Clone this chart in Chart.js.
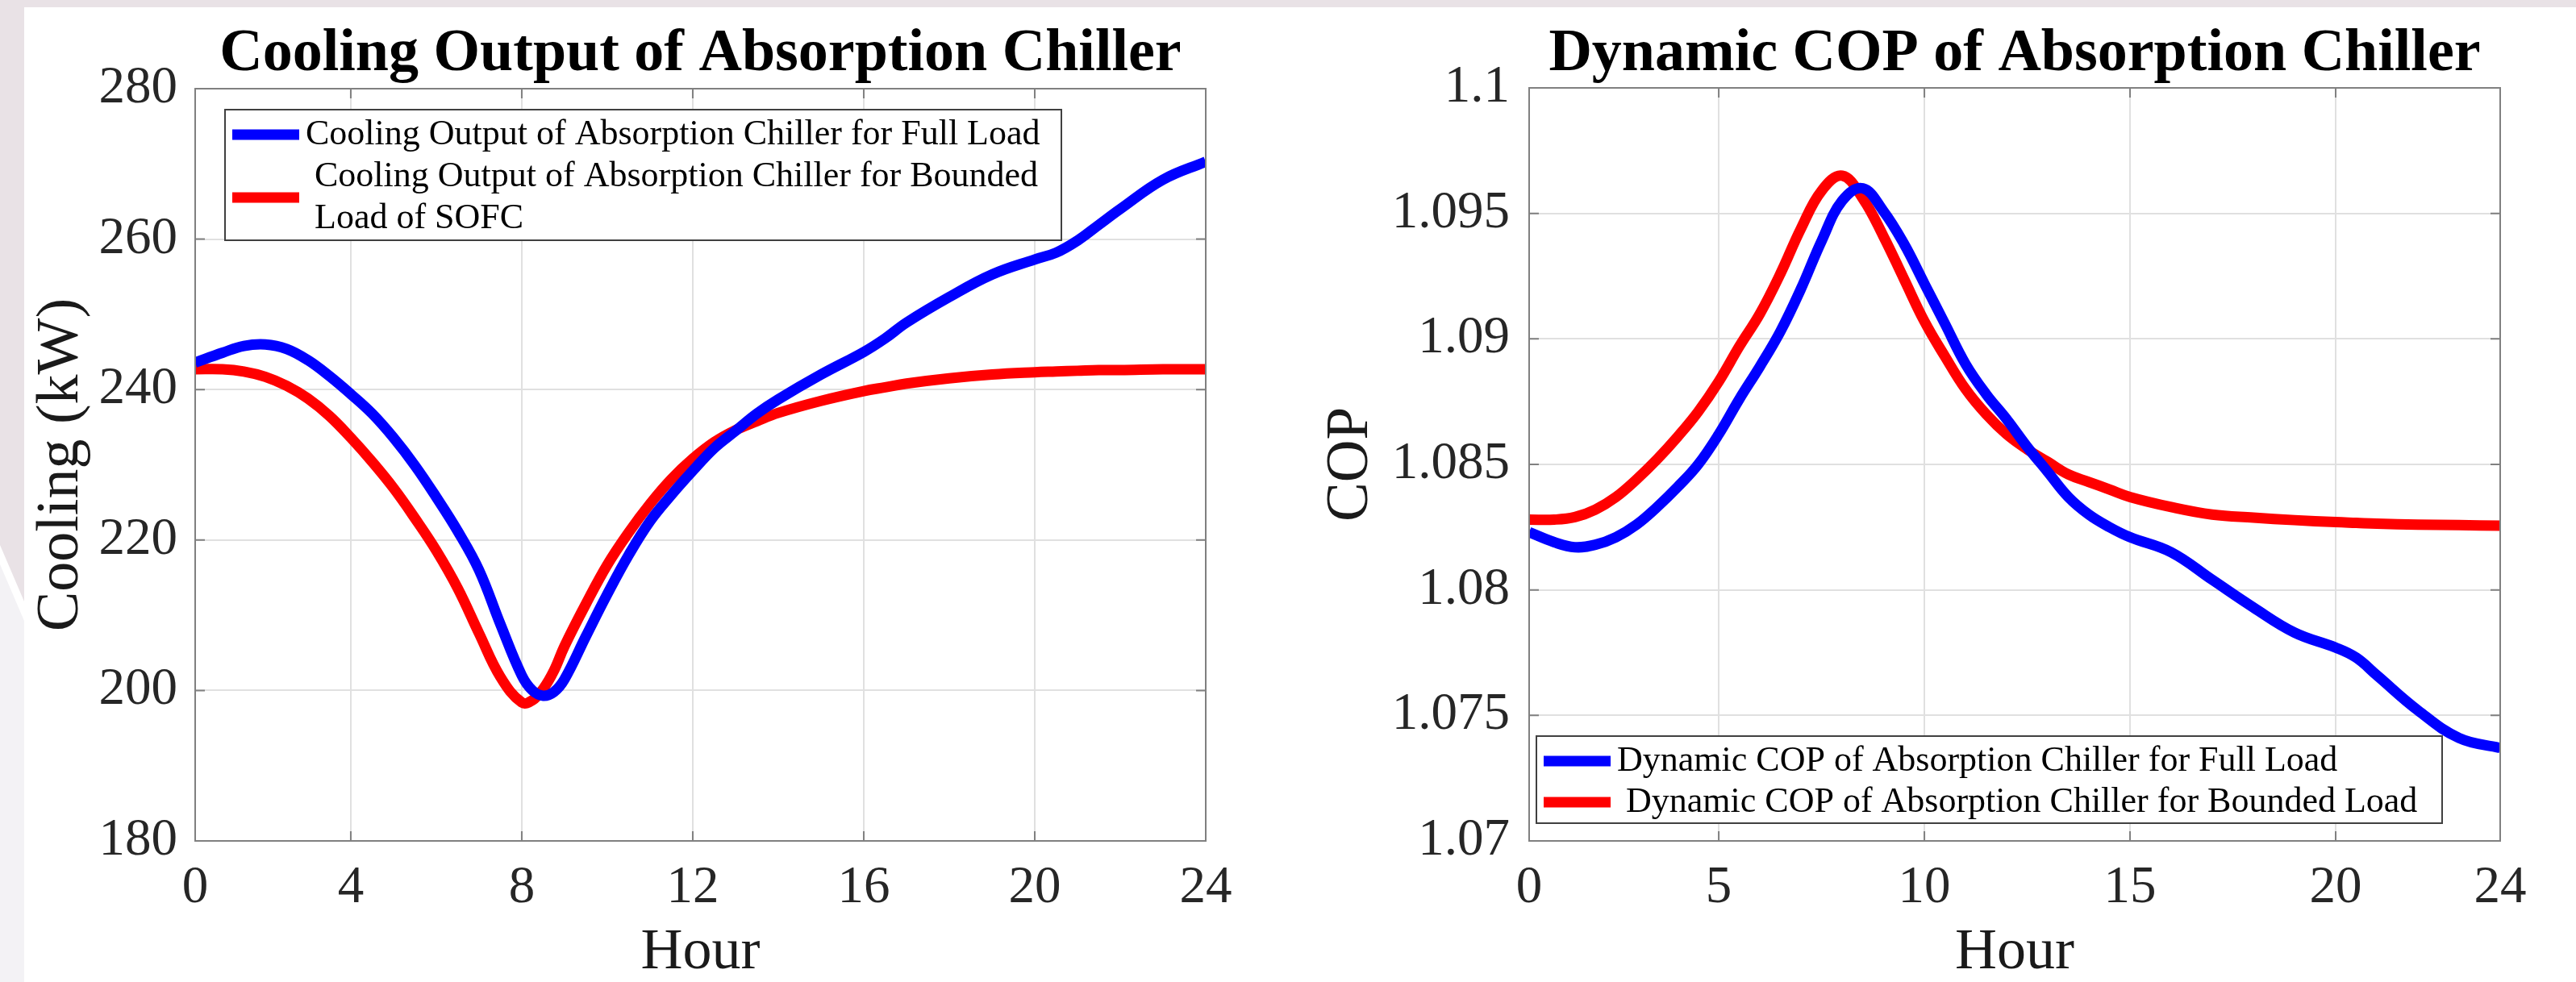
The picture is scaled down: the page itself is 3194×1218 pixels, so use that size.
<!DOCTYPE html>
<html>
<head>
<meta charset="utf-8">
<title>Absorption Chiller</title>
<script src="https://cdn.jsdelivr.net/npm/chart.js"></script>
<style>
  body { margin: 0; background: #fff; width: 3194px; height: 1218px; overflow: hidden; position: relative; }
  .strip-top { position: absolute; left: 0; top: 0; width: 3194px; height: 9px; background: #e9e2e6; }
  .strip-left { position: absolute; left: 0; top: 0; width: 30px; height: 746px; background: #e9e2e6;
    clip-path: polygon(0 0, 100% 0, 100% 100%, 0 676px); }
  .strip-left2 { position: absolute; left: 0; top: 700px; width: 30px; height: 518px; background: #f3f2f5;
    clip-path: polygon(0 0, 100% 70px, 100% 100%, 0 100%); }
  canvas { position: absolute; top: 0; }
  #coolingChart { left: 0; }
  #copChart { left: 1597px; }
</style>
</head>
<body>
<div class="strip-top"></div>
<div class="strip-left"></div>
<div class="strip-left2"></div>
<canvas id="coolingChart" width="1597" height="1218"></canvas>
<canvas id="copChart" width="1597" height="1218"></canvas>

<script>
// ---- cooling output (left) ----
var hoursCooling = [0.36, 1, 1.5, 2, 2.5, 3, 3.5, 4, 4.5, 5, 5.5, 6, 6.5, 7, 7.5, 8, 8.25, 8.5, 8.75, 9,
  9.5, 10, 10.5, 11, 11.5, 12, 12.5, 13, 13.5, 14, 15, 16, 16.5, 17, 18, 19, 20, 20.5, 21, 21.5, 22, 23, 24]
var coolingFull = [243.6, 244.9, 245.8, 246.0, 245.4, 243.9, 241.8, 239.4, 236.8, 233.6, 229.9, 225.7, 221.2,
  216.0, 208.8, 202.0, 200.0, 199.3, 199.8, 201.5, 207.2, 212.8, 218.0, 222.5, 226.0, 229.2, 232.2, 234.5,
  236.8, 238.7, 242.0, 245.0, 246.8, 248.9, 252.3, 255.3, 257.3, 258.2, 259.8, 261.9, 264.0, 267.9, 270.3]
var coolingBounded = [242.7, 242.7, 242.4, 241.7, 240.5, 238.8, 236.5, 233.6, 230.4, 226.9, 222.9, 218.6,
  213.6, 207.6, 201.8, 198.4, 198.7, 200.2, 202.6, 205.9, 211.5, 216.7, 221.0, 224.8, 228.1, 230.8, 233.0,
  234.6, 235.8, 236.9, 238.5, 239.8, 240.3, 240.8, 241.5, 242.0, 242.3, 242.4, 242.5, 242.6, 242.6, 242.7, 242.7]
var coolingXTicks = [0.36, 4, 8, 12, 16, 20, 24]
var coolingXLabels = ['0', '4', '8', '12', '16', '20', '24']
var coolingYTicks = [180, 200, 220, 240, 260, 280]

// ---- dynamic COP (right) ----
var hoursCop = [0.39, 1, 1.5, 2, 2.5, 3, 3.5, 4, 4.5, 5, 5.5, 6, 6.5, 7, 7.5, 8, 8.5, 9, 9.5, 10,
  10.5, 11, 11.5, 12, 12.5, 13, 13.5, 14, 14.5, 15, 16, 17, 18, 19, 20, 20.5, 21, 22, 23, 24]
var copFull = [1.0823, 1.0819, 1.0817, 1.0818, 1.0821, 1.0826, 1.0833, 1.0841, 1.0850, 1.0862,
  1.0876, 1.0889, 1.0903, 1.0920, 1.0939, 1.0955, 1.0960, 1.0951, 1.0938, 1.0922,
  1.0906, 1.0890, 1.0878, 1.0868, 1.0857, 1.0847, 1.0837, 1.0830, 1.0825, 1.0821,
  1.0815, 1.0804, 1.0793, 1.0783, 1.0777, 1.0773, 1.0766, 1.0752, 1.0741, 1.0737]
var copBounded = [1.0828, 1.0828, 1.0829, 1.0832, 1.0837, 1.0844, 1.0852, 1.0861, 1.0871, 1.0883,
  1.0897, 1.0910, 1.0926, 1.0944, 1.0959, 1.0965, 1.0956, 1.0941, 1.0924, 1.0907,
  1.0893, 1.0880, 1.0870, 1.0862, 1.0856, 1.0851, 1.0846, 1.0843, 1.0840, 1.0837,
  1.0833, 1.0830, 1.08288, 1.08278, 1.08270, 1.08267, 1.08264, 1.08260, 1.08258, 1.08256]
var copXTicks = [0.39, 5, 10, 15, 20, 24]
var copXLabels = ['0', '5', '10', '15', '20', '24']
var copYTicks = [1.07, 1.075, 1.08, 1.085, 1.09, 1.095, 1.1]
var copYLabels = ['1.07', '1.075', '1.08', '1.085', '1.09', '1.095', '1.1']

var serif = '"Liberation Serif", "Times New Roman", serif'

// matlab style box with inward ticks on all four sides
var frameAndTicks = {
  id: 'frameAndTicks',
  afterDatasetsDraw: function(chart) {
    var a = chart.chartArea
    var c = chart.ctx
    var len = 12
    c.save()
    c.strokeStyle = '#808080'
    c.lineWidth = 2
    c.beginPath()
    chart.scales.x.ticks.forEach(function(t) {
      var px = chart.scales.x.getPixelForValue(t.value)
      c.moveTo(px, a.bottom); c.lineTo(px, a.bottom - len)
      c.moveTo(px, a.top); c.lineTo(px, a.top + len)
    })
    chart.scales.y.ticks.forEach(function(t) {
      var py = chart.scales.y.getPixelForValue(t.value)
      c.moveTo(a.left, py); c.lineTo(a.left + len, py)
      c.moveTo(a.right, py); c.lineTo(a.right - len, py)
    })
    c.stroke()
    c.strokeRect(a.left, a.top, a.right - a.left, a.bottom - a.top)
    c.restore()
  }
}

// boxed legend drawn inside the axes
var boxLegend = {
  id: 'boxLegend',
  afterDraw: function(chart, args, opts) {
    var a = chart.chartArea
    var c = chart.ctx
    var x = a.left + opts.dx
    var y = a.top + opts.dy
    c.save()
    c.fillStyle = '#fff'
    c.fillRect(x, y, opts.w, opts.h)
    c.strokeStyle = '#404040'
    c.lineWidth = 2
    c.strokeRect(x, y, opts.w, opts.h)
    c.font = '44px ' + serif
    c.textBaseline = 'middle'
    c.textAlign = 'left'
    var lineY = y + opts.firstLine
    chart.data.datasets.forEach(function(ds) {
      var lines = ds.label
      var mid = lineY + (lines.length - 1) * opts.lineGap / 2
      c.strokeStyle = ds.borderColor
      c.lineWidth = 13
      c.lineCap = 'butt'
      c.beginPath()
      c.moveTo(x + 9, mid)
      c.lineTo(x + 92, mid)
      c.stroke()
      c.fillStyle = '#000'
      lines.forEach(function(t, i) {
        c.fillText(t, x + 100, lineY + i * opts.lineGap)
      })
      lineY += lines.length * opts.lineGap
    })
    c.restore()
  }
}

function toPoints(xs, ys) {
  return xs.map(function(h, i) { return {x: h, y: ys[i]} })
}

function renderChart(id, cfg) {
  var ctx = document.getElementById(id)
  new Chart(ctx, {
    type: 'line',
    data: {
      datasets: [{
        label: cfg.labels[0],
        data: toPoints(cfg.hours, cfg.full),
        borderColor: '#0000ff',
        borderWidth: 13,
        pointRadius: 0,
        tension: 0.4
      }, {
        label: cfg.labels[1],
        data: toPoints(cfg.hours, cfg.bounded),
        borderColor: '#ff0000',
        borderWidth: 13,
        pointRadius: 0,
        tension: 0.4
      }]
    },
    options: {
      responsive: false,
      animation: false,
      layout: { padding: { left: 0, right: cfg.padRight, top: 0, bottom: 0 } },
      plugins: {
        legend: { display: false },
        tooltip: { enabled: false },
        title: {
          display: true,
          text: cfg.title,
          fullSize: false,
          color: '#000',
          font: { family: serif, size: 74, weight: 'bold', lineHeight: 1 },
          padding: { top: 31, bottom: cfg.titleGap }
        },
        boxLegend: cfg.legend
      },
      scales: {
        x: {
          type: 'linear',
          min: cfg.xTicks[0],
          max: 24,
          afterBuildTicks: function(s) { s.ticks = cfg.xTicks.map(function(v) { return {value: v} }) },
          afterFit: function(s) { s.height = 175 },
          grid: { color: '#e0e0e0', lineWidth: 2, drawTicks: false },
          border: { display: false },
          ticks: {
            autoSkip: false, maxRotation: 0, padding: 26, color: '#262626',
            font: { family: serif, size: 65, lineHeight: 1 },
            callback: function(v, i) { return cfg.xLabels[i] }
          },
          title: {
            display: true, text: 'Hour', color: '#1a1a1a',
            font: { family: serif, size: 72, lineHeight: 1 },
            padding: { top: 0, bottom: 0 }
          }
        },
        y: {
          min: cfg.yTicks[0],
          max: cfg.yTicks[cfg.yTicks.length - 1],
          afterBuildTicks: function(s) { s.ticks = cfg.yTicks.map(function(v) { return {value: v} }) },
          afterFit: function(s) { s.width = cfg.yWidth },
          grid: { color: '#e0e0e0', lineWidth: 2, drawTicks: false },
          border: { display: false },
          ticks: {
            padding: cfg.yPad, color: '#262626',
            font: { family: serif, size: 65, lineHeight: 1 },
            callback: function(v, i) { return cfg.yLabels[i] }
          },
          title: {
            display: true, text: cfg.yTitle, color: '#1a1a1a',
            font: { family: serif, size: cfg.yTitleSize, lineHeight: 1 },
            padding: { top: cfg.yTitlePad, bottom: 0 }
          }
        }
      }
    },
    plugins: [frameAndTicks, boxLegend]
  })
}

renderChart('coolingChart', {
  title: 'Cooling Output of Absorption Chiller',
  labels: [
    ['Cooling Output of Absorption Chiller for Full Load'],
    [' Cooling Output of Absorption Chiller for Bounded', ' Load of SOFC']
  ],
  hours: hoursCooling, full: coolingFull, bounded: coolingBounded,
  xTicks: coolingXTicks, xLabels: coolingXLabels,
  yTicks: coolingYTicks, yLabels: coolingYTicks.map(String),
  yTitle: 'Cooling (kW)', yTitleSize: 74, yTitlePad: 40,
  yWidth: 242, yPad: 22, padRight: 102, titleGap: 5,
  legend: { dx: 37, dy: 26, w: 1037, h: 162, firstLine: 31, lineGap: 52 }
})

renderChart('copChart', {
  title: 'Dynamic COP of Absorption Chiller',
  labels: [
    ['Dynamic COP of Absorption Chiller for Full Load'],
    [' Dynamic COP of Absorption Chiller for Bounded Load']
  ],
  hours: hoursCop, full: copFull, bounded: copBounded,
  xTicks: copXTicks, xLabels: copXLabels,
  yTicks: copYTicks, yLabels: copYLabels,
  yTitle: 'COP', yTitleSize: 73, yTitlePad: 42,
  yWidth: 299, yPad: 24, padRight: 94, titleGap: 4,
  legend: { dx: 9, dy: 804, w: 1123, h: 108, firstLine: 31, lineGap: 51 }
})
</script>
</body>
</html>
